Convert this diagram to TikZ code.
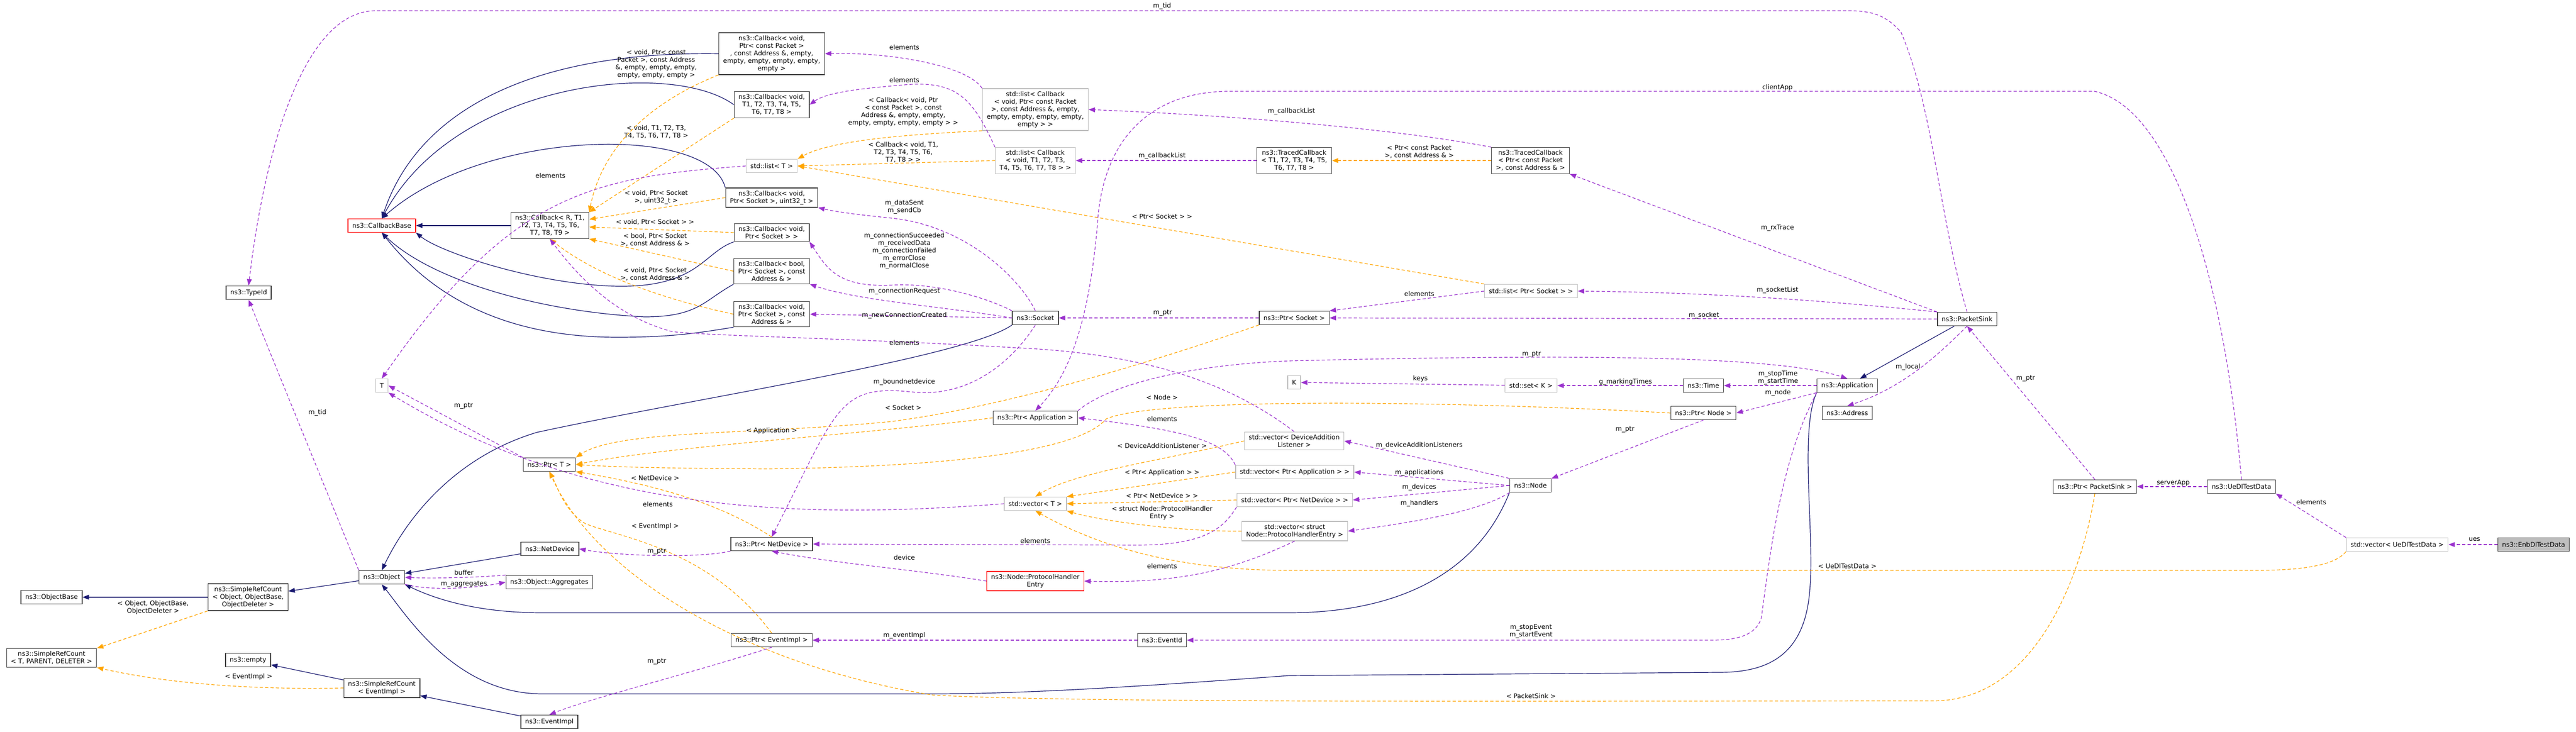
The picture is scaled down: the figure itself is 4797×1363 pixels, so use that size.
\documentclass[tikz,border=0pt]{standalone}
\usepackage{fontspec}
\setmainfont{DejaVu Sans}
\usetikzlibrary{arrows.meta}
\definecolor{inhcol}{HTML}{191970}
\definecolor{usecol}{HTML}{9A32CD}
\definecolor{tplcol}{HTML}{FFA500}
\tikzset{
  cls/.style={draw=black!75, fill=white, line width=0.7pt, align=center, inner xsep=4pt, inner ysep=2.5pt, minimum height=12.5pt},
  ext/.style={cls, draw=black!25},
  undoc/.style={cls, draw=red},
  focus/.style={cls, fill=black!25},
  inh/.style={draw=inhcol, line width=0.6pt, -{Triangle[length=6pt,width=4.5pt]}},
  use/.style={draw=usecol, line width=0.6pt, dash pattern=on 3pt off 2pt, -{Triangle[length=6pt,width=4.5pt]}},
  tpl/.style={draw=tplcol, line width=0.6pt, dash pattern=on 3pt off 2pt, -{Triangle[length=6pt,width=4.5pt]}},
  lbl/.style={align=center, inner sep=0.5pt}
}
\begin{document}
\begin{tikzpicture}[x=0.5pt,y=-0.5pt,font=\fontsize{6}{7}\selectfont]
\useasboundingbox (0,0) rectangle (4797,1363);
% classes
\node[cls] (TypeId) at (463,545) {ns3::TypeId};
\node[undoc] (CbBase) at (711,420) {ns3::CallbackBase};
\node[cls] (CbR) at (1024,420) {ns3::Callback< R, T1,\\T2, T3, T4, T5, T6,\\T7, T8, T9 >};
\node[cls] (CbPkt) at (1437,100) {ns3::Callback< void,\\Ptr< const Packet >\\, const Address \&, empty,\\empty, empty, empty, empty,\\empty >};
\node[cls] (CbVoidT) at (1437,195) {ns3::Callback< void,\\T1, T2, T3, T4, T5,\\T6, T7, T8 >};
\node[ext] (ListT) at (1437,309) {std::list< T >};
\node[cls] (CbSockU32) at (1437,368) {ns3::Callback< void,\\Ptr< Socket >, uint32\_t >};
\node[cls] (CbSock) at (1437,433) {ns3::Callback< void,\\Ptr< Socket > >};
\node[cls] (CbBool) at (1437,505) {ns3::Callback< bool,\\Ptr< Socket >, const\\Address \& >};
\node[cls] (CbSockAddr) at (1437,585) {ns3::Callback< void,\\Ptr< Socket >, const\\Address \& >};
\node[ext] (ListCbPkt) at (1928,204) {std::list< Callback\\< void, Ptr< const Packet\\>, const Address \&, empty,\\empty, empty, empty, empty,\\empty > >};
\node[ext] (ListCbT) at (1928,299) {std::list< Callback\\< void, T1, T2, T3,\\T4, T5, T6, T7, T8 > >};
\node[cls] (Socket) at (1928,592) {ns3::Socket};
\node[cls] (TracedT) at (2410,299) {ns3::TracedCallback\\< T1, T2, T3, T4, T5,\\T6, T7, T8 >};
\node[cls] (TracedPkt) at (2850,299) {ns3::TracedCallback\\< Ptr< const Packet\\>, const Address \& >};
\node[ext] (ListPtrSock) at (2851,542) {std::list< Ptr< Socket > >};
\node[cls] (PtrSocket) at (2410,592) {ns3::Ptr< Socket >};
\node[cls] (PacketSink) at (3663,594) {ns3::PacketSink};
\node[cls] (Application) at (3440,718) {ns3::Application};
\node[cls] (Time) at (3172,718) {ns3::Time};
\node[cls] (PtrNode) at (3172,769) {ns3::Ptr< Node >};
\node[cls] (Address) at (3440,769) {ns3::Address};
\node[ext] (SetK) at (2851,718) {std::set< K >};
\node[ext] (K) at (2410,712) {K};
\node[cls] (Node) at (2850,904) {ns3::Node};
\node[ext] (VecDAL) at (2410,821) {std::vector< DeviceAddition\\Listener >};
\node[ext] (VecPtrApp) at (2411,879) {std::vector< Ptr< Application > >};
\node[ext] (VecPtrNd) at (2411,931) {std::vector< Ptr< NetDevice > >};
\node[ext] (VecPHE) at (2411,989) {std::vector< struct\\Node::ProtocolHandlerEntry >};
\node[cls] (PtrApp) at (1928,778) {ns3::Ptr< Application >};
\node[ext] (VecT) at (1928,938) {std::vector< T >};
\node[cls] (PtrNetDevice) at (1437,1013) {ns3::Ptr< NetDevice >};
\node[undoc] (PHE) at (1928,1082) {ns3::Node::ProtocolHandler\\Entry};
\node[cls] (PtrEventImpl) at (1437,1192) {ns3::Ptr< EventImpl >};
\node[cls] (EventId) at (2164,1192) {ns3::EventId};
\node[ext] (T) at (711,718) {T};
\node[cls] (PtrT) at (1023,865) {ns3::Ptr< T >};
\node[cls] (NetDevice) at (1024,1022) {ns3::NetDevice};
\node[cls] (Object) at (711,1075) {ns3::Object};
\node[cls] (Aggregates) at (1023,1084) {ns3::Object::Aggregates};
\node[cls] (SrcObj) at (462,1112) {ns3::SimpleRefCount\\< Object, ObjectBase,\\ObjectDeleter >};
\node[cls] (ObjectBase) at (96,1112) {ns3::ObjectBase};
\node[cls] (SrcT) at (96,1225) {ns3::SimpleRefCount\\< T, PARENT, DELETER >};
\node[cls] (Empty) at (462,1229) {ns3::empty};
\node[cls] (SrcEv) at (711,1281) {ns3::SimpleRefCount\\< EventImpl >};
\node[cls] (EventImpl) at (1023,1344) {ns3::EventImpl};
\node[cls] (PtrPacketSink) at (3901,906) {ns3::Ptr< PacketSink >};
\node[cls] (UeData) at (4174,906) {ns3::UeDlTestData};
\node[ext] (VecUe) at (4464,1014) {std::vector< UeDlTestData >};
\node[focus] (EnbData) at (4718,1014) {ns3::EnbDlTestData};
% inheritance
\draw[inh] (CbR) -- (CbBase);
\draw[inh] (CbPkt.west) .. controls (1000,95) and (780,200) .. (CbBase.north);
\draw[inh] (CbVoidT.west) .. controls (1250,110) and (850,150) .. (CbBase.north);
\draw[inh] (CbSockU32.north west) .. controls (1320,230) and (900,240) .. (CbBase.north);
\draw[inh] (CbSock.south west) .. controls (1310,470) and (1300,535) .. (1150,533) .. controls (1000,530) and (820,470) .. (CbBase.south east);
\draw[inh] (CbBool.south west) .. controls (1310,560) and (1300,590) .. (1200,590) .. controls (1000,580) and (800,520) .. (CbBase.south);
\draw[inh] (CbSockAddr.south west) .. controls (1300,620) and (1250,628) .. (1150,628) .. controls (900,628) and (780,520) .. (CbBase.south);
\draw[inh] (Socket.south west) .. controls (1800,665) and (1300,740) .. (1000,805) .. controls (850,850) and (760,960) .. (Object.north);
\draw[inh] (NetDevice) -- (Object);
\draw[inh] (Node.south west) .. controls (2750,1070) and (2600,1141) .. (2400,1141) -- (1010,1141) .. controls (900,1141) and (820,1120) .. (Object.south east);
\draw[inh] (Application.south west) .. controls (3350,800) and (3380,1000) .. (3370,1100) .. controls (3360,1230) and (3280,1252) .. (3200,1252) -- (2400,1258) .. controls (2100,1280) and (1900,1292) .. (1735,1292) -- (1010,1292) .. controls (850,1292) and (760,1150) .. (Object.south);
\draw[inh] (Object) -- (SrcObj);
\draw[inh] (SrcObj) -- (ObjectBase);
\draw[inh] (SrcEv) -- (Empty);
\draw[inh] (EventImpl) -- (SrcEv);
\draw[inh] (PacketSink) -- (Application);
% templates
\draw[tpl] (SrcObj.south west) -- (SrcT.north east);
\node[lbl] (lSrcObj) at (285,1131) {< Object, ObjectBase,\\ObjectDeleter >};
\draw[tpl] (SrcEv.west) .. controls (450,1285) and (300,1270) .. (SrcT.south east);
\node[lbl] (lSrcEv) at (463,1260) {< EventImpl >};
\draw[tpl] (CbPkt.south west) .. controls (1150,215) and (1110,330) .. (CbR.north east);
\node[lbl] (lCbPkt) at (1222,119) {< void, Ptr< const\\Packet >, const Address\\\&, empty, empty, empty,\\empty, empty, empty >};
\draw[tpl] (CbVoidT.south west) -- (CbR.north east);
\node[lbl] (lCbVoidT) at (1222,246) {< void, T1, T2, T3,\\T4, T5, T6, T7, T8 >};
\draw[tpl] (CbSockU32.west) -- (CbR);
\node[lbl] (lCbSockU32) at (1222,367) {< void, Ptr< Socket\\>, uint32\_t >};
\draw[tpl] (CbSock.west) -- (CbR);
\node[lbl] (lCbSock) at (1220,414) {< void, Ptr< Socket > >};
\draw[tpl] (CbBool.west) -- (CbR.south east);
\node[lbl] (lCbBool) at (1220,447) {< bool, Ptr< Socket\\>, const Address \& >};
\draw[tpl] (CbSockAddr.west) .. controls (1250,560) and (1120,520) .. (CbR.south);
\node[lbl] (lCbSockAddr) at (1220,511) {< void, Ptr< Socket\\>, const Address \& >};
\draw[tpl] (ListCbPkt.south west) .. controls (1700,250) and (1550,260) .. (ListT.north east);
\node[lbl] (lListCbPkt) at (1682,208) {< Callback< void, Ptr\\< const Packet >, const\\Address \&, empty, empty,\\empty, empty, empty, empty > >};
\draw[tpl] (ListCbT.west) -- (ListT.east);
\node[lbl] (lListCbT) at (1682,284) {< Callback< void, T1,\\T2, T3, T4, T5, T6,\\T7, T8 > >};
\draw[tpl] (ListPtrSock.north west) -- (ListT.east);
\node[lbl] (lListPtrSock) at (2164,403) {< Ptr< Socket > >};
\draw[tpl] (TracedPkt) -- (TracedT);
\node[lbl] (lTracedPkt) at (2643,283) {< Ptr< const Packet\\>, const Address \& >};
\draw[tpl] (PtrSocket.south west) .. controls (2100,690) and (1850,760) .. (1659,785) .. controls (1400,810) and (1150,800) .. (PtrT.north east);
\node[lbl] (lSocket) at (1682,759) {< Socket >};
\draw[tpl] (PtrApp.west) .. controls (1600,810) and (1250,830) .. (PtrT.east);
\node[lbl] (lApp) at (1437,802) {< Application >};
\draw[tpl] (PtrNode.west) .. controls (2700,746) and (2150,740) .. (2060,780) .. controls (2000,850) and (1700,870) .. (1430,873) .. controls (1250,872) and (1150,870) .. (PtrT.east);
\node[lbl] (lNode) at (2164,740) {< Node >};
\draw[tpl] (PtrNetDevice.north) .. controls (1330,930) and (1200,900) .. (PtrT.south east);
\node[lbl] (lNetDevice) at (1220,890) {< NetDevice >};
\draw[tpl] (PtrEventImpl.north) .. controls (1320,1020) and (1150,1000) .. (1090,975) .. controls (1050,950) and (1040,910) .. (PtrT.south);
\node[lbl] (lEventImpl) at (1220,980) {< EventImpl >};
\draw[tpl] (PtrPacketSink.south) .. controls (3880,1050) and (3800,1305) .. (3600,1305) .. controls (3000,1305) and (2000,1310) .. (1735,1294) .. controls (1350,1230) and (1100,1050) .. (PtrT.south);
\node[lbl] (lPacketSink) at (2851,1296) {< PacketSink >};
\draw[tpl] (VecDAL.west) .. controls (2150,860) and (2000,880) .. (VecT.north);
\node[lbl] (lDAL) at (2164,830) {< DeviceAdditionListener >};
\draw[tpl] (VecPtrApp.west) -- (VecT.north east);
\node[lbl] (lPtrApp) at (2164,880) {< Ptr< Application > >};
\draw[tpl] (VecPtrNd.west) -- (VecT.east);
\node[lbl] (lPtrNd) at (2164,923) {< Ptr< NetDevice > >};
\draw[tpl] (VecPHE.west) .. controls (2200,990) and (2050,970) .. (VecT.south east);
\node[lbl] (lPHE) at (2164,955) {< struct Node::ProtocolHandler\\Entry >};
\draw[tpl] (VecUe.south west) .. controls (4350,1050) and (4300,1062) .. (4200,1062) -- (2400,1062) .. controls (2200,1062) and (2050,1020) .. (VecT.south);
\node[lbl] (lUe) at (3440,1054) {< UeDlTestData >};
% members
\draw[use] (Object.north west) -- (TypeId.south);
\node[lbl] (lTid1) at (591,768) {m\_tid};
\draw[use] (PacketSink.north) .. controls (3610,400) and (3600,200) .. (3540,60) .. controls (3510,25) and (3480,20) .. (3440,20) -- (700,20) .. controls (560,20) and (490,300) .. (TypeId.north);
\node[lbl] (lTid2) at (2164,11) {m\_tid};
\draw[use] (ListCbPkt.north west) .. controls (1800,120) and (1650,97) .. (CbPkt.east);
\node[lbl] (lElPkt) at (1684,88) {elements};
\draw[use] (ListCbT.north west) .. controls (1810,180) and (1780,150) .. (1684,158) .. controls (1600,165) and (1540,172) .. (CbVoidT.east);
\node[lbl] (lElT) at (1684,149) {elements};
\draw[use] (ListT.west) .. controls (1100,330) and (950,360) .. (T.north);
\node[lbl] (lElList) at (1025,327) {elements};
\draw[use] (Socket.north) .. controls (1900,520) and (1800,420) .. (1659,406) .. controls (1600,400) and (1560,395) .. (CbSockU32.south east);
\node[lbl] (lSent) at (1684,385) {m\_dataSent\\m\_sendCb};
\draw[use] (Socket.north west) .. controls (1850,560) and (1750,525) .. (1659,531) .. controls (1560,535) and (1540,500) .. (CbSock.south east);
\node[lbl] (lConn) at (1684,467) {m\_connectionSucceeded\\m\_receivedData\\m\_connectionFailed\\m\_errorClose\\m\_normalClose};
\draw[use] (Socket.west) .. controls (1750,570) and (1600,560) .. (CbBool.south east);
\node[lbl] (lReq) at (1684,542) {m\_connectionRequest};
\draw[use] (Socket.west) -- (CbSockAddr.east);
\node[lbl] (lNew) at (1684,587) {m\_newConnectionCreated};
\draw[use] (Socket.south) .. controls (1880,680) and (1800,740) .. (1700,730) .. controls (1560,715) and (1560,760) .. (PtrNetDevice.north);
\node[lbl] (lBound) at (1684,711) {m\_boundnetdevice};
\draw[use] (VecT.west) .. controls (1500,966) and (1100,960) .. (T.south east);
\node[lbl] (lElVec) at (1225,939) {elements};
\draw[use] (PtrT.north west) -- (T.east);
\node[lbl] (lPtrT) at (863,756) {m\_ptr};
\draw[use] (VecDAL.north) .. controls (2300,720) and (2150,660) .. (1900,648) .. controls (1600,630) and (1300,625) .. (1250,617) .. controls (1150,590) and (1080,520) .. (CbR.south);
\node[lbl] (lElDAL) at (1684,638) {elements};
\draw[use] (TracedPkt.north west) .. controls (2600,240) and (2300,215) .. (ListCbPkt.east);
\node[lbl] (lCbList1) at (2405,207) {m\_callbackList};
\draw[use] (TracedT) -- (ListCbT);
\node[lbl] (lCbList2) at (2164,290) {m\_callbackList};
\draw[use] (PacketSink.north west) -- (TracedPkt.south east);
\node[lbl] (lRx) at (3310,425) {m\_rxTrace};
\draw[use] (PacketSink.north west) .. controls (3400,560) and (3200,545) .. (ListPtrSock.east);
\node[lbl] (lSockList) at (3310,540) {m\_socketList};
\draw[use] (PacketSink.west) -- (PtrSocket.east);
\node[lbl] (lSock) at (3173,587) {m\_socket};
\draw[use] (ListPtrSock.west) -- (PtrSocket.north east);
\node[lbl] (lElSock) at (2643,547) {elements};
\draw[use] (PtrSocket) -- (Socket);
\node[lbl] (lPtrSock) at (2165,583) {m\_ptr};
\draw[use] (PacketSink.south) .. controls (3620,650) and (3550,720) .. (Address.north);
\node[lbl] (lLocal) at (3553,683) {m\_local};
\draw[use] (PtrApp.north east) .. controls (2060,720) and (2200,680) .. (2400,672) .. controls (2900,660) and (3300,660) .. (Application.north);
\node[lbl] (lPtrApp2) at (2852,660) {m\_ptr};
\draw[use] (UeData.north) .. controls (4140,500) and (4040,200) .. (3900,170) -- (2290,170) .. controls (2150,170) and (2060,250) .. (2045,400) .. controls (2030,600) and (1990,700) .. (PtrApp.north);
\node[lbl] (lClient) at (3310,163) {clientApp};
\draw[use] (VecPtrApp.north west) .. controls (2280,820) and (2200,800) .. (PtrApp.east);
\node[lbl] (lElApp) at (2164,780) {elements};
\draw[use] (Application) -- (Time);
\node[lbl] (lTime) at (3311,703) {m\_stopTime\\m\_startTime};
\draw[use] (Application.south west) -- (PtrNode.east);
\node[lbl] (lNodeM) at (3311,731) {m\_node};
\draw[use] (Application.south west) .. controls (3320,850) and (3300,1000) .. (3280,1150) .. controls (3270,1185) and (3230,1192) .. (3188,1192) -- (EventId.east);
\node[lbl] (lEvent) at (2851,1176) {m\_stopEvent\\m\_startEvent};
\draw[use] (Time) -- (SetK);
\node[lbl] (lMark) at (3027,711) {g\_markingTimes};
\draw[use] (SetK) -- (K);
\node[lbl] (lKeys) at (2645,705) {keys};
\draw[use] (PtrNode.south) -- (Node.north east);
\node[lbl] (lPtrNode) at (3026,800) {m\_ptr};
\draw[use] (Node.north west) -- (VecDAL.east);
\node[lbl] (lDALm) at (2643,829) {m\_deviceAdditionListeners};
\draw[use] (Node.west) -- (VecPtrApp.east);
\node[lbl] (lApps) at (2643,880) {m\_applications};
\draw[use] (Node.west) -- (VecPtrNd.east);
\node[lbl] (lDevs) at (2643,907) {m\_devices};
\draw[use] (Node.south west) .. controls (2760,950) and (2650,970) .. (VecPHE.east);
\node[lbl] (lHand) at (2643,937) {m\_handlers};
\draw[use] (VecPtrNd.south west) .. controls (2280,980) and (2250,1015) .. (2118,1015) -- (PtrNetDevice.east);
\node[lbl] (lElNd) at (1928,1007) {elements};
\draw[use] (VecPHE.south) .. controls (2300,1060) and (2200,1087) .. (PHE.east);
\node[lbl] (lElPHE) at (2164,1054) {elements};
\draw[use] (PHE.west) .. controls (1700,1060) and (1560,1050) .. (PtrNetDevice.south);
\node[lbl] (lDevice) at (1684,1038) {device};
\draw[use] (PtrNetDevice.south west) .. controls (1300,1040) and (1150,1035) .. (NetDevice.east);
\node[lbl] (lPtrNd) at (1223,1027) {m\_ptr};
\draw[use] (Object.south east) .. controls (800,1100) and (880,1096) .. (Aggregates.west);
\node[lbl] (lAgg) at (864,1088) {m\_aggregates};
\draw[use] (Aggregates.north west) .. controls (880,1076) and (800,1077) .. (Object.east);
\node[lbl] (lBuf) at (864,1066) {buffer};
\draw[use] (EventId) -- (PtrEventImpl);
\node[lbl] (lEvImpl) at (1684,1183) {m\_eventImpl};
\draw[use] (PtrEventImpl.south) .. controls (1300,1250) and (1100,1300) .. (EventImpl.north);
\node[lbl] (lPtrEv) at (1223,1232) {m\_ptr};
\draw[use] (PtrPacketSink.north) -- (PacketSink.south);
\node[lbl] (lPtrSink) at (3772,705) {m\_ptr};
\draw[use] (UeData) -- (PtrPacketSink);
\node[lbl] (lServer) at (4047,899) {serverApp};
\draw[use] (VecUe.north west) -- (UeData.south east);
\node[lbl] (lElUe) at (4304,935) {elements};
\draw[use] (EnbData) -- (VecUe);
\node[lbl] (lUes) at (4608,1004) {ues};
\end{tikzpicture}
\end{document}
